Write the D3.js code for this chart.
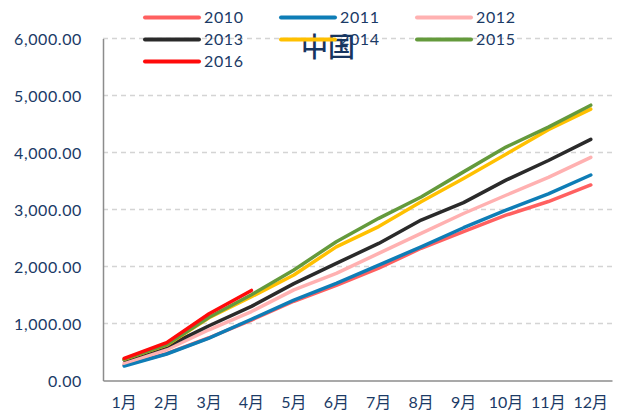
<!DOCTYPE html>
<html>
<head>
<meta charset="utf-8">
<script src="https://cdn.jsdelivr.net/npm/d3@7/dist/d3.min.js"></script>
<style>
  html, body { margin: 0; padding: 0; background: #fff; }
  svg { display: block; }
  text { font-family: Lato, "Noto Sans CJK SC", sans-serif; fill: #1b3a66; }
</style>
</head>
<body>
<svg id="chart" width="624" height="419"></svg>
<script>
// Cumulative monthly values by year
const months = ["1月","2月","3月","4月","5月","6月","7月","8月","9月","10月","11月","12月"];
const years = ["2010","2011","2012","2013","2014","2015","2016"];
const values2010 = [270, 470, 750, 1060, 1390, 1670, 1970, 2320, 2610, 2900, 3140, 3430];
const values2011 = [255, 465, 745, 1075, 1410, 1705, 2025, 2345, 2680, 2990, 3275, 3605];
const values2012 = [305, 540, 890, 1210, 1590, 1880, 2230, 2580, 2930, 3250, 3565, 3915];
const values2013 = [360, 600, 960, 1300, 1700, 2055, 2405, 2815, 3120, 3515, 3860, 4230];
const values2014 = [370, 620, 1100, 1470, 1850, 2345, 2700, 3135, 3545, 3970, 4400, 4760];
const values2015 = [375, 625, 1110, 1505, 1940, 2435, 2845, 3220, 3660, 4095, 4445, 4830];
const values2016 = [390, 665, 1170, 1580];
const yTicks = [0, 1000, 2000, 3000, 4000, 5000, 6000];
const title = "中国";

const seriesValues = [values2010, values2011, values2012, values2013, values2014, values2015, values2016];
const colors = ["#ff6060", "#0e7db6", "#ffb1b1", "#2a2a2a", "#ffc000", "#649a3c", "#ff0a0a"];

const series = years.map((y, i) => ({ name: y, values: seriesValues[i], color: colors[i] }));

const svg = d3.select("#chart");
const plot = { left: 103, right: 612, top: 38.5, bottom: 380.5 };

const x = d3.scaleBand().domain(months).range([plot.left, plot.right]);
const y = d3.scaleLinear().domain([0, 6000]).range([plot.bottom, plot.top]);

// horizontal dashed grid
svg.append("g")
  .selectAll("line")
  .data(yTicks.filter(d => d > 0))
  .join("line")
  .attr("x1", plot.left).attr("x2", plot.right)
  .attr("y1", d => y(d)).attr("y2", d => y(d))
  .attr("stroke", "#d4d4d4")
  .attr("stroke-width", 1.5)
  .attr("stroke-dasharray", "5,4");

// y axis
const yAxis = svg.append("g")
  .attr("transform", `translate(${plot.left},0)`)
  .call(d3.axisLeft(y).tickValues(yTicks).tickSize(0).tickPadding(21)
    .tickFormat(d3.format(",.2f")));
yAxis.select(".domain").attr("stroke", "#8c8c8c").attr("stroke-width", 1.5);
yAxis.selectAll("text").style("font-size", "16px").style("letter-spacing", "0.6px").attr("dy", "0.35em");

// x axis
const xAxis = svg.append("g")
  .attr("transform", `translate(0,${plot.bottom})`)
  .call(d3.axisBottom(x).tickSize(0).tickPadding(16));
xAxis.select(".domain").attr("stroke", "#8c8c8c").attr("stroke-width", 1.5);
xAxis.selectAll("text").style("font-size", "16px");

// series lines
const line = d3.line()
  .x((d, i) => x(months[i]) + x.bandwidth() / 2)
  .y(d => y(d));

svg.append("g")
  .selectAll("path")
  .data(series)
  .join("path")
  .attr("d", d => line(d.values))
  .attr("fill", "none")
  .attr("stroke", d => d.color)
  .attr("stroke-width", 3.5)
  .attr("stroke-linejoin", "round")
  .attr("stroke-linecap", "round");

// title
svg.append("text")
  .attr("x", 328).attr("y", 57)
  .attr("text-anchor", "middle")
  .style("font-family", "'Noto Sans CJK SC', sans-serif")
  .style("font-weight", "500")
  .style("font-size", "27px")
  .style("fill", "#17355f")
  .text(title);

// legend, three columns
const legend = svg.append("g");
const item = legend.selectAll("g")
  .data(series)
  .join("g")
  .attr("transform", (d, i) => `translate(${145 + (i % 3) * 136},${17.5 + Math.floor(i / 3) * 22})`);
item.append("line")
  .attr("x1", 0).attr("x2", 54)
  .attr("stroke", d => d.color)
  .attr("stroke-width", 4)
  .attr("stroke-linecap", "round");
item.append("text")
  .attr("x", 59).attr("dy", "0.35em")
  .style("font-size", "16px")
  .style("letter-spacing", "0.6px")
  .text(d => d.name);
</script>
</body>
</html>
